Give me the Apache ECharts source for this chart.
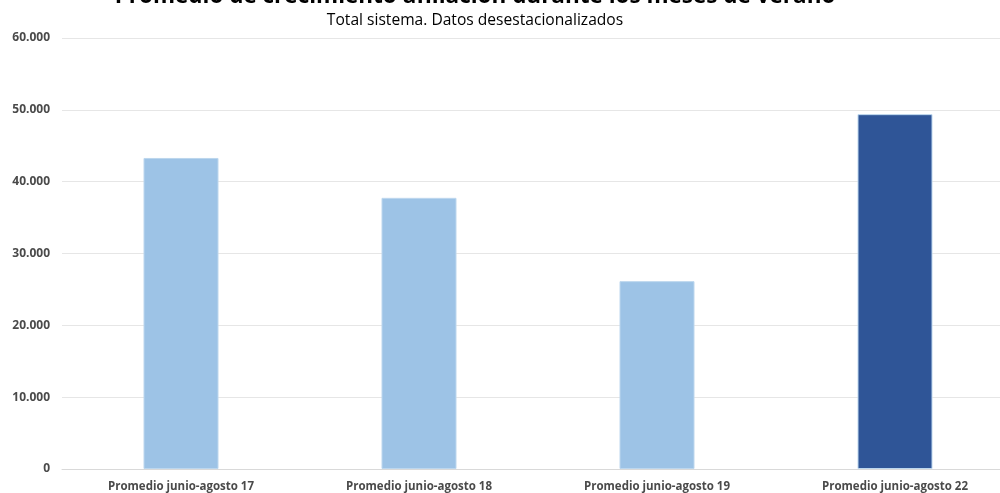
<!DOCTYPE html>
<html>
<head>
<meta charset="utf-8">
<script src="https://cdn.jsdelivr.net/npm/echarts@6/dist/echarts.min.js"></script>
<style>html,body{margin:0;padding:0;background:#fff;overflow:hidden;width:1000px;height:493px;}#c{width:1014px;height:493px;}</style>
</head>
<body>
<div id="c"></div>
<script>
var categories = ['Promedio junio-agosto 17', 'Promedio junio-agosto 18', 'Promedio junio-agosto 19', 'Promedio junio-agosto 22'];
var values = [43300, 37750, 26150, 49400];
var barColors = ['#9DC3E6', '#9DC3E6', '#9DC3E6', '#2F5597'];
var titleText = 'Promedio de crecimiento afiliación durante los meses de verano';
var subtitleText = 'Total sistema. Datos desestacionalizados';

var chart = echarts.init(document.getElementById('c'));
var FONT = '"Open Sans", "DejaVu Sans", sans-serif';
chart.setOption({
  animation: false,
  graphic: [
    { type: 'text', x: 475, y: -3, style: { text: titleText, font: 'bold 22.5px ' + FONT, fill: '#000', textAlign: 'center', textVerticalAlign: 'middle' } },
    { type: 'text', x: 475, y: 21, style: { text: subtitleText, font: '15.6px ' + FONT, fill: '#000', textAlign: 'center', textVerticalAlign: 'middle' } }
  ],
  grid: { left: 62, right: 0, top: 38, bottom: 23, containLabel: false },
  xAxis: {
    type: 'category',
    data: categories,
    axisLine: { lineStyle: { color: '#D9D9D9' } },
    axisTick: { show: false },
    axisLabel: { color: '#4A4A4A', fontWeight: 'bold', fontSize: 11.5, fontFamily: FONT, margin: 12, interval: 0 }
  },
  yAxis: {
    type: 'value',
    min: 0, max: 60000, interval: 10000,
    axisLine: { show: false },
    axisTick: { show: false },
    splitLine: { lineStyle: { color: '#E6E6E6' } },
    axisLabel: {
      color: '#4A4A4A', fontWeight: 'bold', fontSize: 12, fontFamily: FONT, margin: 12,
      formatter: function (v) { return v === 0 ? '0' : String(v).replace(/\B(?=(\d{3})+(?!\d))/g, '.'); }
    }
  },
  series: [{
    type: 'bar',
    barWidth: 75,
    data: values.map(function (v, i) {
      return { value: v, itemStyle: { color: barColors[i], borderColor: '#BDD7EE', borderWidth: 1 } };
    })
  }]
});
</script>
</body>
</html>
